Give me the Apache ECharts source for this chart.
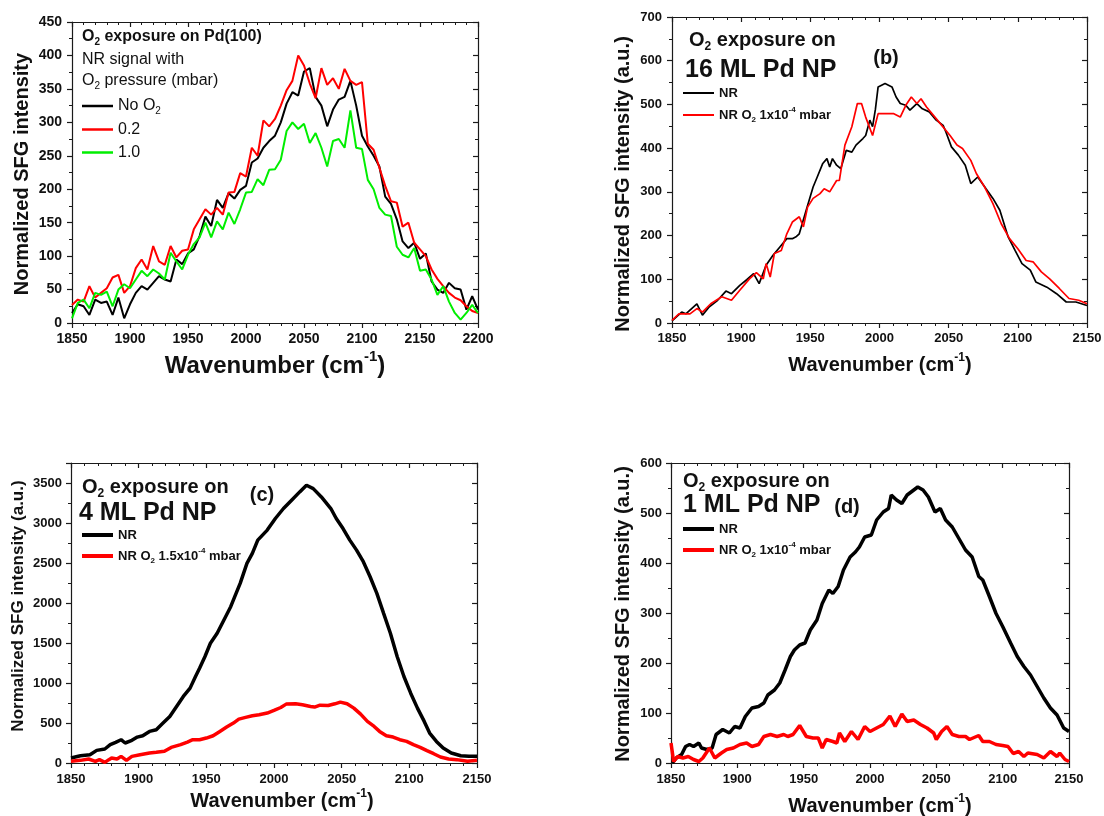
<!DOCTYPE html>
<html><head><meta charset="utf-8">
<script src="https://cdn.jsdelivr.net/npm/echarts@6/dist/echarts.min.js"></script>
<style>html,body{margin:0;padding:0;background:#fff}#c{width:1104px;height:816px}</style>
</head><body><div id="c"></div>
<script>
// ---------- DATA ----------
// Panel (a): O2 exposure on Pd(100), wavenumber grid (cm-1)
const aWn = [1850,1855,1860,1865,1870,1875,1880,1885,1890,1895,1900,1905,1910,1915,1920,1925,1930,1935,1940,1945,
  1950,1955,1960,1965,1970,1975,1980,1985,1990,1995,2000,2005,2010,2015,2020,2025,2030,2035,2040,2045,
  2050,2055,2060,2065,2070,2075,2080,2085,2090,2095,2100,2105,2110,2115,2120,2125,2130,2135,2140,2145,
  2150,2155,2160,2165,2170,2175,2180,2185,2190,2195,2200];
const aNoO2 = [15,28,25,12,35,30,32,12,38,7,28,45,55,50,60,70,65,62,95,88,
  104,110,130,159,145,184,172,194,186,199,205,240,246,262,272,280,300,328,345,340,
  376,381,338,325,294,319,334,338,362,325,280,264,250,234,189,178,155,122,112,120,
  96,104,62,50,45,60,52,50,20,40,20];
const aO2_02 = [27,35,32,55,38,45,52,68,72,45,55,82,95,80,115,92,87,115,98,108,
  110,140,155,170,162,172,162,195,196,224,219,262,250,303,294,305,325,348,362,400,
  385,358,336,381,356,366,350,380,362,356,360,268,259,232,205,182,180,144,150,120,
  110,100,80,66,55,45,38,34,25,18,15];
const aO2_10 = [7,30,35,22,45,42,47,25,50,58,52,65,78,70,80,74,65,105,92,80,
  102,118,128,150,128,152,140,165,148,170,195,196,215,206,229,230,244,287,300,290,
  298,269,284,262,234,272,275,262,318,262,260,214,200,172,162,160,114,102,98,112,
  78,80,65,42,55,32,15,5,15,27,15];

// Panel (b): 16 ML Pd NP  [wavenumber, intensity]
const bNR = [[1850,5],[1857,25],[1860,21],[1868,44],[1872,18],[1877,37],[1883,52],[1889,73],[1893,67],[1899,86],
  [1904,99],[1909,113],[1913,90],[1918,132],[1923,155],[1928,174],[1933,193],[1937,193],[1940,198],[1942,204],
  [1947,258],[1952,311],[1955,334],[1959,365],[1962,376],[1964,357],[1966,376],[1969,361],[1972,353],[1976,395],
  [1980,391],[1983,407],[1988,422],[1990,429],[1993,464],[1995,449],[1997,488],[1999,540],[2004,548],[2009,540],
  [2012,517],[2015,502],[2019,498],[2022,487],[2027,502],[2031,490],[2036,483],[2041,464],[2046,452],[2048,437],
  [2052,403],[2057,384],[2062,361],[2066,319],[2071,334],[2077,307],[2082,285],[2087,258],[2093,197],[2098,166],
  [2103,136],[2109,121],[2113,94],[2121,82],[2128,67],[2135,48],[2142,48],[2150,40]];
const bNRO2 = [[1850,6],[1855,21],[1863,21],[1868,33],[1872,25],[1878,44],[1886,60],[1893,52],[1899,75],[1906,101],
  [1911,115],[1916,101],[1918,136],[1921,105],[1924,159],[1929,166],[1933,204],[1937,231],[1942,243],[1945,220],
  [1948,265],[1952,285],[1957,296],[1960,307],[1964,300],[1969,326],[1971,326],[1975,407],[1980,449],[1984,502],
  [1987,502],[1990,471],[1995,429],[1999,479],[2004,479],[2010,479],[2015,471],[2019,498],[2023,517],[2027,502],
  [2030,513],[2034,494],[2039,475],[2045,452],[2051,429],[2056,407],[2060,399],[2066,372],[2070,342],[2076,311],
  [2082,273],[2088,227],[2094,193],[2100,170],[2106,143],[2111,140],[2117,117],[2123,101],[2130,79],[2137,56],
  [2144,52],[2150,44]];

// Panel (c): 4 ML Pd NP
const cNR = [[1850,62],[1857,91],[1864,104],[1869,158],[1875,175],[1879,229],[1883,258],[1887,291],[1890,250],[1895,283],
  [1899,324],[1903,341],[1908,395],[1913,416],[1918,499],[1923,582],[1928,707],[1933,832],[1938,936],[1942,1081],
  [1945,1185],[1949,1331],[1953,1497],[1958,1622],[1963,1788],[1968,1954],[1971,2079],[1975,2245],[1980,2495],[1984,2620],
  [1988,2786],[1995,2911],[2001,3056],[2007,3181],[2013,3285],[2019,3389],[2024,3472],[2029,3430],[2035,3326],[2042,3181],
  [2046,3056],[2051,2931],[2056,2786],[2061,2661],[2066,2516],[2071,2328],[2076,2121],[2081,1871],[2086,1622],[2091,1331],
  [2096,1081],[2101,873],[2106,686],[2111,520],[2115,374],[2120,270],[2125,187],[2131,125],[2138,91],[2144,83],[2150,83]];
const cNRO2 = [[1850,21],[1857,33],[1863,50],[1868,21],[1871,42],[1875,8],[1878,42],[1880,62],[1884,50],[1887,83],
  [1891,33],[1895,83],[1901,104],[1908,125],[1913,133],[1919,146],[1924,195],[1931,229],[1936,262],[1940,291],
  [1945,291],[1950,312],[1955,341],[1960,395],[1965,449],[1970,499],[1974,549],[1979,570],[1984,590],[1989,603],
  [1995,624],[2000,657],[2005,694],[2009,736],[2016,740],[2021,728],[2027,707],[2030,699],[2034,723],[2040,719],
  [2045,740],[2049,761],[2054,740],[2059,686],[2064,611],[2069,520],[2074,457],[2078,395],[2083,341],[2088,324],
  [2093,291],[2098,270],[2103,229],[2108,195],[2113,154],[2118,116],[2123,75],[2129,50],[2135,42],[2143,21],[2150,33]];

// Panel (d): 1 ML Pd NP
const dNR = [[1851,0],[1854,10],[1858,17],[1861,33],[1864,37],[1867,33],[1871,40],[1873,30],[1877,27],[1881,30],
  [1884,57],[1889,67],[1894,60],[1898,73],[1902,70],[1906,93],[1911,110],[1916,113],[1920,120],[1923,136],
  [1928,146],[1932,160],[1936,186],[1940,213],[1943,226],[1947,236],[1951,240],[1955,266],[1960,286],[1964,319],
  [1969,346],[1972,339],[1976,353],[1980,386],[1985,412],[1989,422],[1992,432],[1996,452],[2001,456],[2005,486],
  [2010,502],[2014,509],[2016,536],[2020,526],[2024,519],[2028,536],[2033,546],[2036,552],[2040,546],[2044,532],
  [2049,502],[2053,509],[2057,486],[2062,472],[2067,449],[2072,426],[2077,412],[2082,373],[2085,366],[2090,333],
  [2095,299],[2100,273],[2106,240],[2111,213],[2116,193],[2121,176],[2126,153],[2131,130],[2136,110],[2141,96],
  [2146,70],[2150,63]];
const dNRO2 = [[1850,40],[1852,3],[1855,13],[1859,10],[1863,13],[1867,7],[1871,3],[1874,10],[1879,30],[1883,10],
  [1888,20],[1892,27],[1897,30],[1902,37],[1907,40],[1911,33],[1916,37],[1920,53],[1925,57],[1930,53],
  [1935,57],[1938,53],[1942,57],[1947,75],[1952,53],[1957,50],[1961,50],[1964,30],[1967,47],[1972,43],
  [1975,40],[1977,60],[1981,43],[1986,63],[1991,47],[1996,73],[2000,63],[2005,70],[2010,77],[2015,94],
  [2019,73],[2024,98],[2028,83],[2033,86],[2038,77],[2043,70],[2048,60],[2050,47],[2054,63],[2058,73],
  [2062,57],[2067,53],[2072,53],[2075,47],[2082,55],[2085,43],[2090,43],[2095,37],[2100,35],[2104,33],
  [2108,19],[2112,23],[2116,13],[2119,20],[2126,17],[2131,10],[2136,23],[2141,13],[2143,20],[2147,7],[2150,3]];

// Axis ranges (min, max, interval)
const aX = [1850, 2200, 50], aY = [0, 450, 50];
const bX = [1850, 2150, 50], bY = [0, 700, 100];
const cX = [1850, 2150, 50], cY = [0, 3750, 500];
const dX = [1850, 2150, 50], dY = [0, 600, 100];

// ---------- CHART ----------
const FF = '"Liberation Sans", Arial, Helvetica, sans-serif';
const AX = '#1a1a1a';
const TXT = '#111';

function rich(F, w) {
  const s = Math.round(F * 0.62);
  return {
    t: {fontSize: F, fontWeight: w, fontFamily: FF, color: TXT, fill: TXT},
    s: {fontSize: s, fontWeight: w, fontFamily: FF, color: TXT, fill: TXT, padding: [Math.round(F * 0.7), 0, 0, 0]},
    p: {fontSize: s, fontWeight: w, fontFamily: FF, color: TXT, fill: TXT, padding: [0, 0, Math.round(F * 0.75), 0]}
  };
}

function axesPair(dir, g, r, minorSplit, fs, margin, extraLabel) {
  const base = {
    type: 'value', gridIndex: g, min: r[0], max: r[1], interval: r[2],
    axisLine: {show: true, onZero: false, lineStyle: {color: AX, width: 1.2}},
    splitLine: {show: false}, minorSplitLine: {show: false},
    minorTick: {show: true, splitNumber: minorSplit, length: 3, lineStyle: {color: AX, width: 1}}
  };
  const main = Object.assign({}, base, {
    position: dir === 'x' ? 'bottom' : 'left',
    axisTick: {show: true, inside: false, length: 5, lineStyle: {color: AX, width: 1.2}},
    axisLabel: Object.assign({show: true, fontSize: fs, fontWeight: 'bold', fontFamily: FF, color: TXT,
      margin: margin, hideOverlap: false, formatter: v => String(v)}, extraLabel || {})
  });
  const mirror = Object.assign({}, base, {
    position: dir === 'x' ? 'top' : 'right',
    axisTick: {show: true, inside: true, length: 5, lineStyle: {color: AX, width: 1.2}},
    axisLabel: {show: false}
  });
  return [main, mirror];
}

const grids = [
  {left: 72, top: 22, width: 406, height: 301},
  {left: 672, top: 17, width: 415, height: 306},
  {left: 71, top: 463, width: 406, height: 300},
  {left: 671, top: 463, width: 398, height: 300}
].map(g => Object.assign({outerBoundsMode: 'none', containLabel: false}, g));

const xAxis = [].concat(
  axesPair('x', 0, aX, 5, 14, 9),
  axesPair('x', 1, bX, 5, 13, 9),
  axesPair('x', 2, cX, 5, 13, 10),
  axesPair('x', 3, dX, 5, 13, 10)
);
const yAxis = [].concat(
  axesPair('y', 0, aY, 2, 14, 10),
  axesPair('y', 1, bY, 2, 13, 10),
  axesPair('y', 2, cY, 2, 13, 9, {showMaxLabel: false}),
  axesPair('y', 3, dY, 2, 13, 9)
);

function line(name, g, data, color, width) {
  return {
    name: name, type: 'line', xAxisIndex: 2 * g, yAxisIndex: 2 * g, data: data,
    symbol: 'none', showSymbol: false, smooth: false, animation: false,
    lineStyle: {color: color, width: width}, itemStyle: {color: color},
    emphasis: {disabled: true}
  };
}

const series = [
  line('a_none', 0, aWn.map((x, i) => [x, aNoO2[i]]), '#000000', 2),
  line('a_02', 0, aWn.map((x, i) => [x, aO2_02[i]]), '#ff0000', 2),
  line('a_10', 0, aWn.map((x, i) => [x, aO2_10[i]]), '#00ee00', 2),
  line('b_nr', 1, bNR, '#000000', 1.7),
  line('b_o2', 1, bNRO2, '#ff0000', 1.7),
  line('c_nr', 2, cNR, '#000000', 3.5),
  line('c_o2', 2, cNRO2, '#ff0000', 3.5),
  line('d_nr', 3, dNR, '#000000', 3.5),
  line('d_o2', 3, dNRO2, '#ff0000', 3.5)
];

const legendText = {
  a_none: '{t|No O}{s|2}', a_02: '{t|0.2}', a_10: '{t|1.0}',
  b_nr: '{t|NR}', b_o2: '{t|NR O}{s|2}{t| 1x10}{p|-4}{t| mbar}',
  c_nr: '{t|NR}', c_o2: '{t|NR O}{s|2}{t| 1.5x10}{p|-4}{t| mbar}',
  d_nr: '{t|NR}', d_o2: '{t|NR O}{s|2}{t| 1x10}{p|-4}{t| mbar}'
};
function legend(names, left, top, gap, F, w, lh, thick) {
  return {
    show: true, orient: 'vertical', left: left, top: top, padding: 0,
    icon: 'rect', itemWidth: 31, itemHeight: thick, itemGap: gap, selectedMode: false,
    data: names, formatter: n => legendText[n],
    textStyle: {fontSize: F, fontWeight: w, fontFamily: FF, color: TXT, lineHeight: lh, rich: rich(F, w)}
  };
}
const legends = [
  legend(['a_none', 'a_02', 'a_10'], 82, 96, 3, 16, 'normal', 20, 2.5),
  legend(['b_nr', 'b_o2'], 683, 85, 5, 13, 'bold', 16, 2),
  legend(['c_nr', 'c_o2'], 82, 527, 4, 13, 'bold', 16, 4),
  legend(['d_nr', 'd_o2'], 683, 521, 4, 13, 'bold', 16, 4)
];

function txt(x, y, text, F, w, opt) {
  opt = opt || {};
  return {
    type: 'text', x: x, y: y, rotation: opt.rot || 0, silent: true, z: 100,
    style: {
      text: text, fontSize: F, fontWeight: w, fontFamily: FF, fill: TXT,
      align: opt.align || 'left', verticalAlign: 'middle', rich: rich(F, w)
    }
  };
}
const R90 = Math.PI / 2;
const graphic = [
  // panel a
  txt(22, 174, 'Normalized SFG intensity', 20, 'bold', {rot: R90, align: 'center'}),
  txt(275, 366, '{t|Wavenumber (cm}{p|-1}{t|)}', 24, 'bold', {align: 'center'}),
  txt(82, 37, '{t|O}{s|2}{t| exposure on Pd(100)}', 16, 'bold'),
  txt(82, 60, '{t|NR signal with}', 16, 'normal'),
  txt(82, 81, '{t|O}{s|2}{t| pressure (mbar)}', 16, 'normal'),
  // panel b
  txt(623, 184, 'Normalized SFG intensity (a.u.)', 20, 'bold', {rot: R90, align: 'center'}),
  txt(880, 365, '{t|Wavenumber (cm}{p|-1}{t|)}', 20, 'bold', {align: 'center'}),
  txt(689, 40, '{t|O}{s|2}{t| exposure on}', 20, 'bold'),
  txt(685, 70, '{t|16 ML Pd NP}', 25, 'bold'),
  txt(886, 58, '{t|(b)}', 20, 'bold', {align: 'center'}),
  // panel c
  txt(18, 606, 'Normalized SFG intensity (a.u.)', 17, 'bold', {rot: R90, align: 'center'}),
  txt(282, 801, '{t|Wavenumber (cm}{p|-1}{t|)}', 20, 'bold', {align: 'center'}),
  txt(82, 487, '{t|O}{s|2}{t| exposure on}', 20, 'bold'),
  txt(79, 513, '{t|4 ML Pd NP}', 25, 'bold'),
  txt(262, 495, '{t|(c)}', 20, 'bold', {align: 'center'}),
  // panel d
  txt(623, 614, 'Normalized SFG intensity (a.u.)', 20, 'bold', {rot: R90, align: 'center'}),
  txt(880, 806, '{t|Wavenumber (cm}{p|-1}{t|)}', 20, 'bold', {align: 'center'}),
  txt(683, 481, '{t|O}{s|2}{t| exposure on}', 20, 'bold'),
  txt(683, 505, '{t|1 ML Pd NP}', 25, 'bold'),
  txt(847, 507, '{t|(d)}', 20, 'bold', {align: 'center'})
];

const chart = echarts.init(document.getElementById('c'), null, {renderer: 'canvas'});
chart.setOption({
  backgroundColor: '#ffffff',
  animation: false,
  grid: grids, xAxis: xAxis, yAxis: yAxis,
  legend: legends, series: series, graphic: graphic,
  tooltip: {show: false}
});
</script></body></html>
